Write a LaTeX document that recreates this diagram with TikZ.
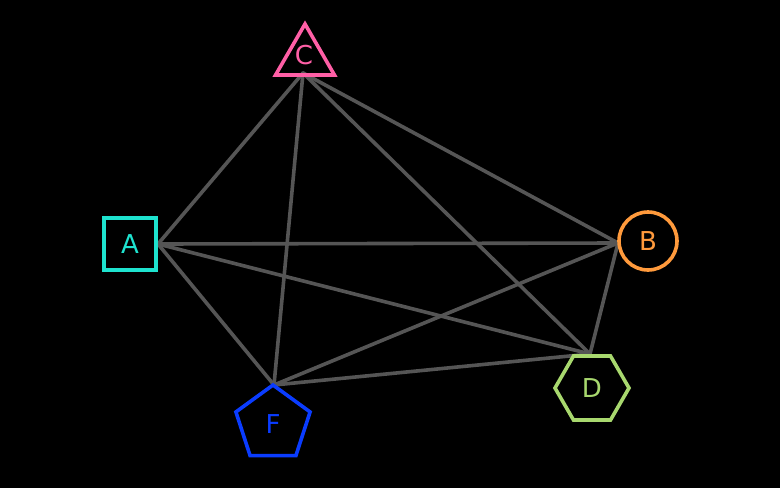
\documentclass[tikz,border=0pt]{standalone}
\usepackage{fontspec}
\setmainfont{DejaVu Sans}
\usetikzlibrary{shapes.geometric}
\definecolor{ca}{HTML}{1EE3CF}
\definecolor{cb}{HTML}{FF9A3C}
\definecolor{cc}{HTML}{FF5FA6}
\definecolor{cd}{HTML}{A8D86E}
\definecolor{cf}{HTML}{0A3CFF}
\definecolor{ce}{HTML}{555555}
\begin{document}
\begin{tikzpicture}[x=1pt,y=-1pt,
  edge/.style={draw=ce,line width=3.6pt,line cap=round,line join=round},
  shp/.style={line width=3.6pt,inner sep=0pt},
  lbl/.style={font=\fontsize{26}{26}\selectfont}]
\fill[black] (0,0) rectangle (780,488);
\useasboundingbox (0,0) rectangle (780,488);
\coordinate (a) at (158,244);
\coordinate (c) at (303,73);
\coordinate (b) at (618,243);
\coordinate (d) at (590,354);
\coordinate (f) at (274,385);
\draw[edge] (a) -- (c);
\draw[edge] (a) -- (b);
\draw[edge] (a) -- (d);
\draw[edge] (a) -- (f);
\draw[edge] (c) -- (f);
\draw[edge] (c) -- (b);
\draw[edge] (c) -- (d);
\draw[edge] (b) -- (f);
\draw[edge] (b) -- (d);
\draw[edge] (f) -- (d);
\node[draw=ca,shp,minimum size=52pt,lbl,text=ca] (A) at (130,244) {A};
\node[draw=cb,circle,shp,minimum size=58pt,lbl,text=cb] (B) at (648,241) {B};
\node[draw=cc,regular polygon,regular polygon sides=3,shp,minimum size=68pt] (C) at (305,58) {};
\node[lbl,text=cc] (Ct) at (304,55) {C};
\node[draw=cd,regular polygon,regular polygon sides=6,shp,minimum size=74pt,lbl,text=cd] (D) at (592,388) {D};
\node[draw=cf,regular polygon,regular polygon sides=5,shp,minimum size=78pt,lbl,text=cf] (F) at (273,424) {F};
\end{tikzpicture}
\end{document}
